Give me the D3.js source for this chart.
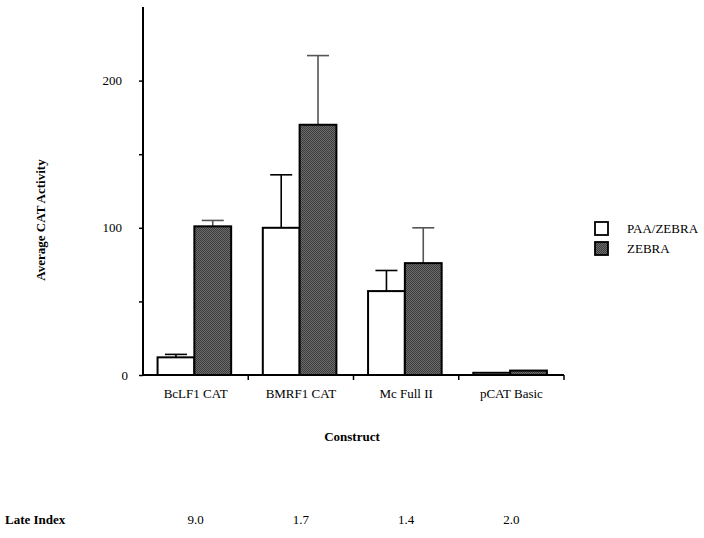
<!DOCTYPE html>
<html>
<head>
<meta charset="utf-8">
<script src="https://cdn.jsdelivr.net/npm/d3@7"></script>
<style>
  body { margin: 0; background: #fff; }
</style>
</head>
<body>
<svg id="chart" width="704" height="538"></svg>
<script>
const categories = ["BcLF1 CAT", "BMRF1 CAT", "Mc Full II", "pCAT Basic"];
const seriesNames = ["PAA/ZEBRA", "ZEBRA"];
const paaValues = [12, 100, 57, 1.5];
const paaErrors = [2, 36, 14, 0];
const zebraValues = [101, 170, 76, 3];
const zebraErrors = [4, 47, 24, 0];
const lateIndex = ["9.0", "1.7", "1.4", "2.0"];
const yTicks = [0, 50, 100, 150, 200];

const FONT = "Liberation Serif, Times New Roman, Times, serif";

const svg = d3.select("#chart").attr("font-family", FONT);

// stippled grey fill for the ZEBRA bars
const pat = svg.append("defs").append("pattern")
    .attr("id", "stipple")
    .attr("width", 2).attr("height", 2)
    .attr("patternUnits", "userSpaceOnUse");
pat.append("rect").attr("width", 2).attr("height", 2).attr("fill", "#6c6c6c");
pat.append("rect").attr("width", 1).attr("height", 1).attr("fill", "#3c3c3c");
pat.append("rect").attr("x", 1).attr("y", 1).attr("width", 1).attr("height", 1).attr("fill", "#3c3c3c");

const plotLeft = 143, plotRight = 564, plotTop = 7, plotBottom = 375;

const x0 = d3.scaleBand().domain(categories).range([plotLeft, plotRight]);
const x1 = d3.scaleBand().domain(seriesNames).range([0, x0.bandwidth()])
    .paddingInner(0).paddingOuter(0.43).align(0.46);
const y = d3.scaleLinear().domain([0, 250]).range([plotBottom, plotTop]);

const fills = {"PAA/ZEBRA": "#fff", "ZEBRA": "url(#stipple)"};
const errColor = {"PAA/ZEBRA": "#000", "ZEBRA": "#555"};

const rows = [];
categories.forEach((c, i) => {
    rows.push({cat: c, s: "PAA/ZEBRA", v: paaValues[i], e: paaErrors[i]});
    rows.push({cat: c, s: "ZEBRA", v: zebraValues[i], e: zebraErrors[i]});
});

// error bars (upper only), drawn before bars
const err = svg.append("g").selectAll("g").data(rows.filter(d => d.e > 0)).enter().append("g");
err.append("line")
    .attr("x1", d => x0(d.cat) + x1(d.s) + x1.bandwidth() / 2)
    .attr("x2", d => x0(d.cat) + x1(d.s) + x1.bandwidth() / 2)
    .attr("y1", d => y(d.v))
    .attr("y2", d => y(d.v + d.e))
    .attr("stroke", d => errColor[d.s])
    .attr("stroke-width", 1.6);
err.append("line")
    .attr("x1", d => x0(d.cat) + x1(d.s) + x1.bandwidth() / 2 - 11)
    .attr("x2", d => x0(d.cat) + x1(d.s) + x1.bandwidth() / 2 + 11)
    .attr("y1", d => y(d.v + d.e))
    .attr("y2", d => y(d.v + d.e))
    .attr("stroke", d => errColor[d.s])
    .attr("stroke-width", 1.6);

svg.append("g").selectAll("rect").data(rows).enter().append("rect")
    .attr("x", d => x0(d.cat) + x1(d.s))
    .attr("y", d => y(d.v))
    .attr("width", x1.bandwidth())
    .attr("height", d => y(0) - y(d.v))
    .attr("fill", d => fills[d.s])
    .attr("stroke", "#000")
    .attr("stroke-width", 2);

// y axis
const yAxis = svg.append("g")
    .attr("transform", `translate(${plotLeft},0)`)
    .call(d3.axisLeft(y).tickValues(yTicks).tickSize(4).tickPadding(17)
        .tickFormat(d => d % 100 === 0 ? d : ""));
yAxis.attr("font-family", FONT).attr("font-size", 13);
yAxis.select(".domain").attr("d", `M0,${plotTop}V${plotBottom}`).attr("stroke-width", 2);
yAxis.selectAll(".tick line").attr("stroke-width", 1.5);
yAxis.selectAll(".tick").filter(d => d === 0).select("text").attr("dx", 6);

// x axis with boundary ticks
const xg = svg.append("g").attr("transform", `translate(0,${plotBottom})`);
xg.append("line").attr("x1", plotLeft).attr("x2", plotRight).attr("stroke", "#000").attr("stroke-width", 2);
xg.selectAll(".bt").data(categories.slice(1).concat(["end"])).enter().append("line")
    .attr("x1", d => d === "end" ? plotRight : x0(d))
    .attr("x2", d => d === "end" ? plotRight : x0(d))
    .attr("y1", 0).attr("y2", 5)
    .attr("stroke", "#000").attr("stroke-width", 1.5);
xg.selectAll(".cl").data(categories).enter().append("text")
    .attr("x", d => x0(d) + x0.bandwidth() / 2)
    .attr("y", 23)
    .attr("text-anchor", "middle")
    .attr("font-size", 13)
    .text(d => d);

svg.append("text")
    .attr("x", 352).attr("y", 441)
    .attr("text-anchor", "middle")
    .attr("font-size", 13).attr("font-weight", "bold")
    .text("Construct");

svg.append("text")
    .attr("transform", "translate(45,220) rotate(-90)")
    .attr("text-anchor", "middle")
    .attr("font-size", 13).attr("font-weight", "bold")
    .text("Average CAT Activity");

// late index row
svg.append("text")
    .attr("x", 5).attr("y", 524)
    .attr("font-size", 13).attr("font-weight", "bold")
    .text("Late Index");
svg.selectAll(".li").data(categories).enter().append("text")
    .attr("x", d => x0(d) + x0.bandwidth() / 2)
    .attr("y", 524)
    .attr("text-anchor", "middle")
    .attr("font-size", 13)
    .text((d, i) => lateIndex[i]);

// legend
const legend = svg.append("g").attr("transform", "translate(595,222)");
const items = legend.selectAll("g").data(seriesNames).enter().append("g")
    .attr("transform", (d, i) => `translate(0,${i * 20})`);
items.append("rect")
    .attr("width", 13).attr("height", 13)
    .attr("fill", d => fills[d])
    .attr("stroke", "#000").attr("stroke-width", 1.8);
items.append("text")
    .attr("x", 32).attr("y", 11)
    .attr("font-size", 13)
    .text(d => d);
</script>
</body>
</html>
